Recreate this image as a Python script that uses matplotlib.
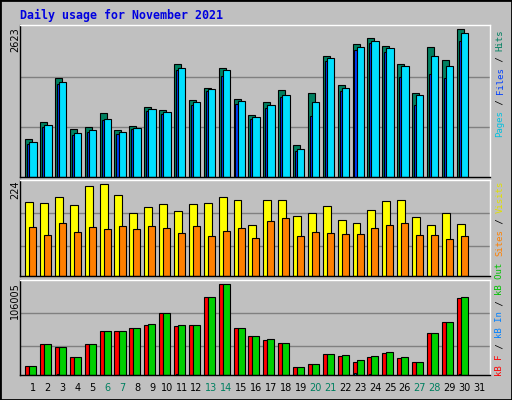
import numpy as np
import matplotlib.pyplot as plt
from matplotlib.patches import Rectangle

days = np.arange(1, 31)
hits = [666, 968, 1751, 844, 879, 1128, 826, 897, 1235, 1182, 2001, 1365, 1573, 1930, 1378,
        1093, 1324, 1538, 559, 1484, 2143, 1627, 2357, 2463, 2321, 2001, 1484, 2303, 2072, 2623]
files = [612, 915, 1680, 772, 826, 1022, 790, 862, 1200, 1146, 1930, 1324, 1556, 1894, 1342,
         1057, 1271, 1449, 488, 1324, 2108, 1573, 2303, 2410, 2286, 1965, 1449, 2143, 1965, 2552]
pages = [580, 880, 1650, 740, 800, 1000, 760, 840, 1170, 1120, 1900, 1280, 1520, 1786, 1300,
         1030, 1230, 1420, 450, 1075, 2060, 1530, 2250, 2370, 2225, 1780, 1280, 1828, 1751, 2421]
visits = [180, 178, 192, 173, 219, 224, 197, 153, 168, 175, 158, 175, 178, 192, 185,
          124, 185, 185, 146, 153, 170, 136, 129, 161, 183, 187, 144, 124, 153, 127]
sites = [119, 100, 129, 107, 119, 114, 122, 114, 122, 117, 105, 122, 97, 110, 117,
         93, 134, 141, 97, 107, 105, 102, 102, 117, 124, 131, 100, 100, 90, 97]
kb_out = [11261, 36889, 33394, 20968, 36112, 51256, 51256, 54750, 59410, 72224, 58245, 58245,
          90862, 106005, 54750, 45431, 41936, 37277, 9319, 12814, 24463, 23298, 17474, 22133,
          26793, 20968, 15144, 48926, 61740, 90862]
kb_f = [11261, 36889, 32600, 20968, 36112, 51256, 51256, 54750, 58600, 72224, 57100, 58245,
        90862, 106005, 54750, 45431, 40800, 37277, 9319, 12814, 24463, 22100, 16000, 21000,
        25600, 19800, 15144, 48926, 61740, 89700]
kb_in = [300, 300, 1500, 300, 300, 300, 300, 300, 300, 300, 1500, 300, 300, 300, 300,
         300, 300, 300, 300, 300, 300, 300, 2500, 1500, 300, 300, 300, 300, 300, 1500]
weekend = [6, 7, 13, 14, 20, 21, 27, 28]

BG = "#C0C0C0"
fig = plt.figure(figsize=(5.12, 4.0), dpi=100, facecolor=BG)
fig.patches.append(Rectangle((0, 0), 1, 1, transform=fig.transFigure, fill=False,
                             edgecolor="black", linewidth=2))

def px_axes(top, bottom):
    return fig.add_axes([20 / 512, 1 - bottom / 400, 470 / 512, (bottom - top) / 400], facecolor=BG)

def style(ax, ymax, grid):
    ax.set_xlim(0.128, 31.72)
    ax.set_ylim(0, ymax)
    ax.set_xticks([])
    ax.set_yticks([])
    for g in grid:
        ax.axhline(g, color="#808080", linewidth=1, zorder=0)
    for s in ax.spines.values():
        s.set_color("black")
        s.set_linewidth(1)
    ax.spines["top"].set_color("white")
    ax.spines["right"].set_color("white")

ec = dict(edgecolor="black", linewidth=0.8, align="edge")

# hits / files / pages
ax1 = px_axes(25, 176.7)
style(ax1, 2699, [880, 1780])
ax1.bar(days - 0.52, hits, width=0.47, color="#008060", **ec)
ax1.bar(days - 0.39, pages, width=0.14, color="#0040FF", **ec)
ax1.bar(days - 0.25, files, width=0.5, color="#00E0FF", **ec)

# visits / sites
ax2 = px_axes(180, 276.3)
style(ax2, 234.5, [73, 153])
ax2.bar(days - 0.52, visits, width=0.53, color="#FFFF00", **ec)
ax2.bar(days - 0.25, sites, width=0.47, color="#FF8000", **ec)

# kB F / In / Out
ax3 = px_axes(280.3, 375.3)
style(ax3, 110665, [33782, 72224])
ax3.bar(days - 0.52, kb_f, width=0.27, color="#FF0000", **ec)
ax3.bar(days - 0.39, kb_in, width=0.13, color="#0080FF", **ec)
ax3.bar(days - 0.25, kb_out, width=0.47, color="#00D000", **ec)

for d in range(1, 32):
    ax3.text(d, -9500, str(d), ha="center", va="top", fontsize=7, family="DejaVu Sans",
             color="#008060" if d in weekend else "black")

fig.text(20 / 512, 1 - 15 / 400, "Daily usage for November 2021", color="#0000E0",
         fontsize=8.4, family="DejaVu Sans Mono", fontweight="bold", va="center")

for txt, ytop in [("2623", 27), ("224", 180), ("106005", 282)]:
    fig.text(15 / 512, 1 - ytop / 400, txt, rotation=90, ha="center", va="top",
             fontsize=7, family="DejaVu Sans")

CW = 5.4
def side(parts, ybottom):
    y = ybottom
    for t, c in parts:
        fig.text(500 / 512, 1 - y / 400, t, rotation=90, ha="center", va="bottom",
                 fontsize=6.5, family="DejaVu Sans Mono", color=c)
        y -= CW * len(t)

side([("Pages", "#00C0E0"), (" / ", "black"), ("Files", "#0040FF"), (" / ", "black"),
      ("Hits", "#008060")], 137)
side([("Sites", "#FF8000"), (" / ", "black"), ("Visits", "#E0E000")], 256)
side([("kB F", "#FF0000"), (" / ", "black"), ("kB In", "#0080FF"), (" / ", "black"),
      ("kB Out", "#00C000")], 376)

fig.savefig("out.png", dpi=100, facecolor=BG)
